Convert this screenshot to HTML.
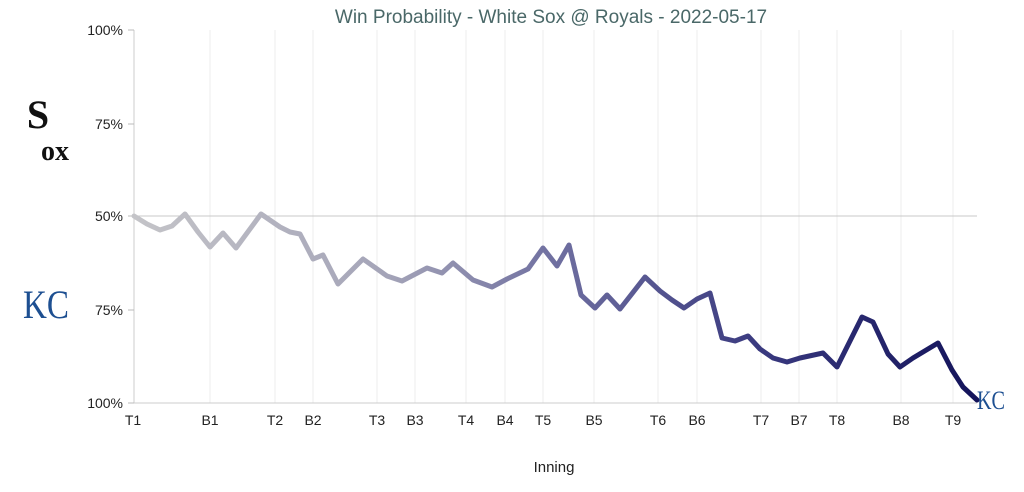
<!DOCTYPE html>
<html><head><meta charset="utf-8"><style>
body{margin:0;background:#fff;width:1024px;height:487px;overflow:hidden}
svg text{font-family:"Liberation Sans",sans-serif}
svg text.serif{font-family:"Liberation Serif",serif}
</style></head><body>
<svg width="1024" height="487" xmlns="http://www.w3.org/2000/svg">
<defs><linearGradient id="g" gradientUnits="userSpaceOnUse" x1="134" y1="0" x2="977" y2="0">
<stop offset="0" stop-color="#c4c4c8"/><stop offset="0.3" stop-color="#a4a4b8"/><stop offset="0.5" stop-color="#6f6fa0"/><stop offset="0.75" stop-color="#38387e"/><stop offset="1" stop-color="#13135a"/></linearGradient></defs>
<text x="551" y="23" font-size="19" fill="#4a6868" text-anchor="middle">Win Probability - White Sox @ Royals - 2022-05-17</text>
<g stroke="#ececec" stroke-width="1">
<line x1="210" y1="30" x2="210" y2="403"/><line x1="275" y1="30" x2="275" y2="403"/><line x1="313" y1="30" x2="313" y2="403"/><line x1="377" y1="30" x2="377" y2="403"/><line x1="415" y1="30" x2="415" y2="403"/><line x1="466" y1="30" x2="466" y2="403"/><line x1="505" y1="30" x2="505" y2="403"/><line x1="543" y1="30" x2="543" y2="403"/><line x1="594" y1="30" x2="594" y2="403"/><line x1="658" y1="30" x2="658" y2="403"/><line x1="697" y1="30" x2="697" y2="403"/><line x1="761" y1="30" x2="761" y2="403"/><line x1="799" y1="30" x2="799" y2="403"/><line x1="837" y1="30" x2="837" y2="403"/><line x1="901" y1="30" x2="901" y2="403"/><line x1="953" y1="30" x2="953" y2="403"/>
</g>
<line x1="134" y1="30" x2="134" y2="403" stroke="#ccc"/>
<line x1="134" y1="403" x2="977" y2="403" stroke="#ccc"/>
<line x1="134" y1="216" x2="977" y2="216" stroke="#c8c8c8"/>
<g stroke="#bbb"><line x1="128" y1="30" x2="134" y2="30"/><line x1="128" y1="124" x2="134" y2="124"/><line x1="128" y1="216" x2="134" y2="216"/><line x1="128" y1="310" x2="134" y2="310"/><line x1="128" y1="403" x2="134" y2="403"/></g>
<g font-size="14" fill="#222" text-anchor="end">
<text x="123" y="35">100%</text><text x="123" y="129">75%</text><text x="123" y="221">50%</text><text x="123" y="315">75%</text><text x="123" y="408">100%</text></g>
<g font-size="14" fill="#222" text-anchor="middle">
<text x="133" y="425">T1</text><text x="210" y="425">B1</text><text x="275" y="425">T2</text><text x="313" y="425">B2</text><text x="377" y="425">T3</text><text x="415" y="425">B3</text><text x="466" y="425">T4</text><text x="505" y="425">B4</text><text x="543" y="425">T5</text><text x="594" y="425">B5</text><text x="658" y="425">T6</text><text x="697" y="425">B6</text><text x="761" y="425">T7</text><text x="799" y="425">B7</text><text x="837" y="425">T8</text><text x="901" y="425">B8</text><text x="953" y="425">T9</text>
<text x="554" y="472" font-size="15">Inning</text></g>
<polyline fill="none" stroke="url(#g)" stroke-width="5" stroke-linejoin="round" stroke-linecap="round" points="134,216 147,224 160,230 172,226 185,214 198,232 210,247 223,233 236,248 261,214 280,227 290,232 300,234 313,259 323,255 338,284 363,259 387,276 402,281 427,268 442,273 453,263 473,280 492,287 507,279 528,269 543,248 557,266 569,245 581,295 595,308 607,295 620,309 645,277 660,291 672,300 684,308 697,299 710,293 722,338 735,341 748,336 760,349 773,358 787,362 800,358 823,353 837,367 862,317 873,322 888,354 900,367 913,358 938,343 952,370 963,387 977,400"/>
<text class="serif" x="38" y="128" font-size="40" font-weight="bold" fill="#111" text-anchor="middle">S</text>
<text class="serif" x="55" y="160" font-size="28" font-weight="bold" fill="#111" text-anchor="middle">ox</text>
<text class="serif" x="46" y="318" font-size="40" fill="#1d4f91" text-anchor="middle" textLength="46" lengthAdjust="spacingAndGlyphs">KC</text>
<text class="serif" x="991" y="409" font-size="26" fill="#1d4f91" text-anchor="middle" textLength="28" lengthAdjust="spacingAndGlyphs">KC</text>
</svg>
</body></html>
